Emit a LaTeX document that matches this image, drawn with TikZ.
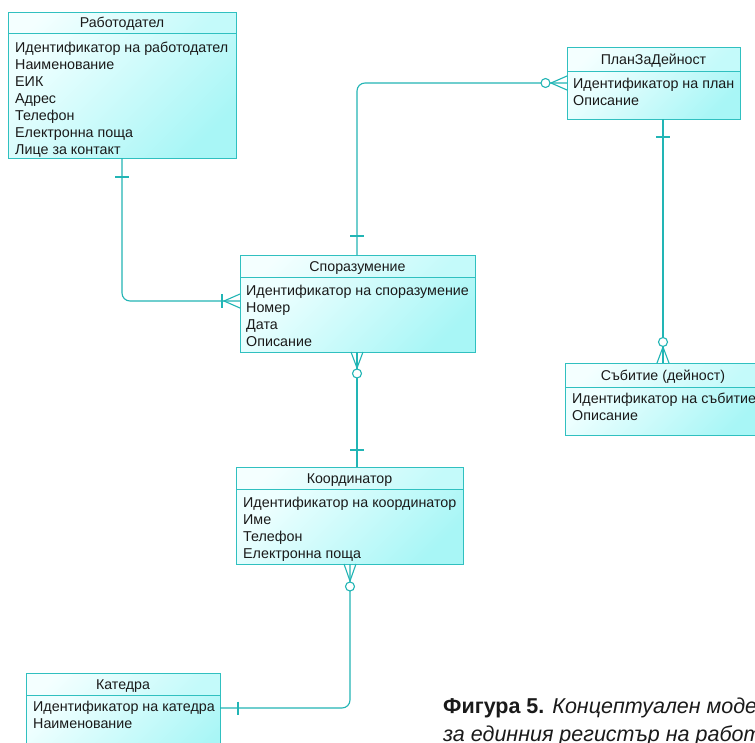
\documentclass[tikz,border=0pt]{standalone}
\usepackage{fontspec}
\setmainfont{Liberation Sans}
\usetikzlibrary{calc}
\definecolor{edgec}{HTML}{30C0C0}
\definecolor{linec}{HTML}{22B5B5}
\definecolor{hdA}{HTML}{F4FFFF}
\definecolor{hdB}{HTML}{C4FAFA}
\definecolor{bdA}{HTML}{EEFFFF}
\definecolor{bdB}{HTML}{A8F6F6}
\definecolor{txt}{HTML}{1A1A1A}
\tikzset{
 hd/.style={rectangle, draw=edgec, line width=1pt, anchor=north west, inner sep=0pt, outer sep=0pt,
   top color=hdA, bottom color=hdB, shading angle=45, font=\fontsize{14.2}{17}\selectfont, text=txt,
   text height=11pt, text depth=1pt},
 bd/.style={rectangle, draw=edgec, line width=1pt, anchor=north west, inner sep=0pt, outer sep=0pt,
   top color=bdA, bottom color=bdB, shading angle=45},
 bt/.style={anchor=north west, inner sep=0pt, align=left, font=\fontsize{14.3}{17}\selectfont, text=txt},
 rel/.style={draw=linec, line width=1.1pt},
 zc/.style={circle, draw=linec, line width=1.1pt, fill=white, minimum size=9pt, inner sep=0pt},
 captxt/.style={anchor=base west, inner sep=0pt, font=\fontsize{21.5}{29}\selectfont, text=txt},
}
\begin{document}
\begin{tikzpicture}[x=1pt,y=-1pt]
\useasboundingbox (0,0) rectangle (755,742);
\clip (0,0) rectangle (755,742);
\fill[white] (0,0) rectangle (755,742);

% Работодател
\node[hd, minimum width=228pt, minimum height=21pt] (rabh) at (8,12) {Работодател};
\node[bd, minimum width=228pt, minimum height=125pt] (rabb) at (rabh.south west) {};
\node[bt] (rabt) at ($(rabb.north west)+(7,7)$) {\rule{0pt}{12pt}Идентификатор на работодател\\Наименование\\ЕИК\\Адрес\\Телефон\\Електронна поща\\Лице за контакт};

% Споразумение
\node[hd, minimum width=235pt, minimum height=22pt] (spoh) at (240,255) {Споразумение};
\node[bd, minimum width=235pt, minimum height=75pt] (spob) at (spoh.south west) {};
\node[bt] (spot) at ($(spob.north west)+(6,6)$) {\rule{0pt}{12pt}Идентификатор на споразумение\\Номер\\Дата\\Описание};

% ПланЗаДейност
\node[hd, minimum width=173pt, minimum height=24pt] (planh) at (567,47) {ПланЗаДейност};
\node[bd, minimum width=173pt, minimum height=48pt] (planb) at (planh.south west) {};
\node[bt] (plant) at ($(planb.north west)+(6,5.3)$) {\rule{0pt}{12pt}Идентификатор на план\\Описание};

% Събитие
\node[hd, minimum width=196pt, minimum height=24pt] (sabh) at (565,363) {Събитие (дейност)};
\node[bd, minimum width=196pt, minimum height=48pt] (sabb) at (sabh.south west) {};
\node[bt] (sabt) at ($(sabb.north west)+(7,4.5)$) {\rule{0pt}{12pt}Идентификатор на събитие\\Описание};

% Координатор
\node[hd, minimum width=227pt, minimum height=22pt] (kooh) at (236,467) {Координатор};
\node[bd, minimum width=227pt, minimum height=75pt] (koob) at (kooh.south west) {};
\node[bt] (koot) at ($(koob.north west)+(7,6.3)$) {\rule{0pt}{12pt}Идентификатор на координатор\\Име\\Телефон\\Електронна поща};

% Катедра
\node[hd, minimum width=194pt, minimum height=22pt] (kath) at (26,673) {Катедра};
\node[bd, minimum width=194pt, minimum height=80pt] (katb) at (kath.south west) {};
\node[bt] (katt) at ($(katb.north west)+(7,4.7)$) {\rule{0pt}{12pt}Идентификатор на катедра\\Наименование};

% 1: Работодател -- Споразумение
\draw[rel, rounded corners=8pt] ($(rabb.south west)+(114,0)$) |- ($(spob.north west)+(0,24)$);
\draw[rel] ($(rabb.south west)+(107,19)$) -- ++(14,0);
\draw[rel] ($(spob.north west)+(0,17)$) -- ($(spob.north west)+(-16,24)$) -- ($(spob.north west)+(0,31)$);
\draw[rel] ($(spob.north west)+(-18,17)$) -- ++(0,14);

% 2: Споразумение -- ПланЗаДейност
\draw[rel, rounded corners=8pt] ($(spoh.north west)+(117,0)$) |- ($(planb.north west)+(0,12)$);
\draw[rel] ($(spoh.north west)+(110,-19)$) -- ++(14,0);
\draw[rel] ($(planb.north west)+(0,5)$) -- ($(planb.north west)+(-16,12)$) -- ($(planb.north west)+(0,19)$);
\node[zc] (z1) at ($(planb.north west)+(-21.5,12)$) {};

% 3: ПланЗаДейност -- Събитие
\draw[rel] ($(planb.south west)+(96,0)$) -- ($(sabh.north west)+(98,0)$);
\draw[rel] ($(planb.south west)+(89,18)$) -- ++(14,0);
\draw[rel] ($(sabh.north west)+(92,0)$) -- ($(sabh.north west)+(98,-16)$) -- ($(sabh.north west)+(104,0)$);
\node[zc] (z2) at ($(sabh.north west)+(98,-21)$) {};

% 4: Споразумение -- Координатор
\draw[rel] ($(spob.south west)+(117,0)$) -- ($(kooh.north west)+(121,0)$);
\draw[rel] ($(kooh.north west)+(114,-17)$) -- ++(14,0);
\draw[rel] ($(spob.south west)+(111,0)$) -- ($(spob.south west)+(117,16)$) -- ($(spob.south west)+(123,0)$);
\node[zc] (z3) at ($(spob.south west)+(117,21.5)$) {};

% 5: Координатор -- Катедра
\draw[rel, rounded corners=8pt] ($(koob.south west)+(114,0)$) |- ($(katb.north east)+(0,13)$);
\draw[rel] ($(katb.north east)+(18,6.5)$) -- ++(0,13);
\draw[rel] ($(koob.south west)+(108,0)$) -- ($(koob.south west)+(114,17)$) -- ($(koob.south west)+(120,0)$);
\node[zc] (z4) at ($(koob.south west)+(114,22.5)$) {};

% Caption
\node[captxt] (cap1) at (443,713) {\textbf{Фигура 5.} \textit{Концептуален модел}};
\node[captxt] (cap2) at (443,741) {\textit{за единния регистър на работодателите}};
\end{tikzpicture}
\end{document}
